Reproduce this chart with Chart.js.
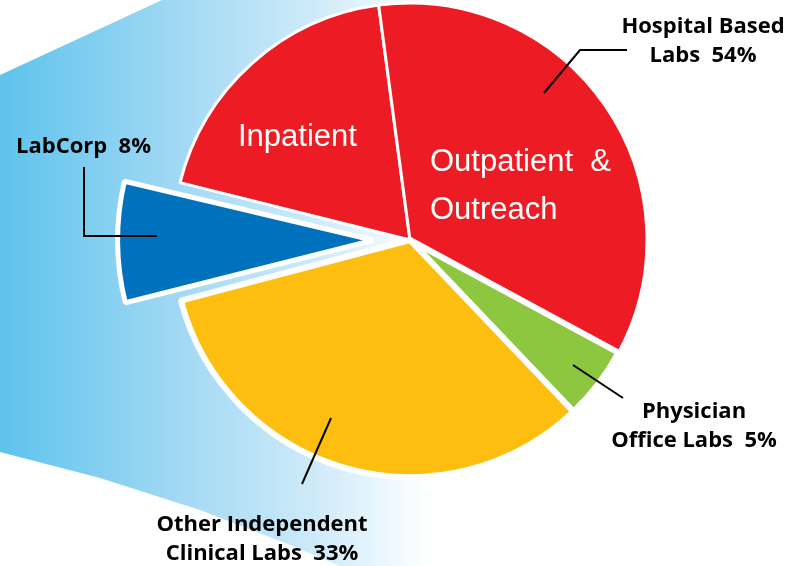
<!DOCTYPE html>
<html>
<head>
<meta charset="utf-8">
<script src="https://cdn.jsdelivr.net/npm/chart.js@4/dist/chart.umd.min.js"></script>
<style>
  html, body { margin: 0; padding: 0; background: #fff; }
  #wrap { position: relative; width: 805px; height: 566px; overflow: hidden; }
  #funnel {
    position: absolute; left: 0; top: 0; width: 805px; height: 566px;
    background: linear-gradient(to right, #5ec3ed 0px, #a2d9f4 180px, #d0ebf9 320px, #eef8fd 390px, #ffffff 430px);
    clip-path: polygon(0px 75px, 162px 0px, 805px 0px, 805px 566px, 340px 566px, 290px 545px, 200px 510px, 100px 478px, 0px 452px);
  }
  canvas { position: absolute; left: 0; top: 0; }
</style>
</head>
<body>
<div id="wrap">
  <div id="funnel"></div>
  <canvas id="pieCanvas" width="805" height="566"></canvas>
</div>
<script>
// slices, clockwise from the LabCorp/Inpatient edge
const categories = ['Inpatient', 'Outpatient & Outreach', 'Physician Office Labs', 'Other Independent Clinical Labs', 'LabCorp'];
const shares = [19, 35, 5, 33, 8];
const sliceColors = ['#ed1c24', '#ed1c24', '#8dc63f', '#fdbe10', '#0071bc'];
const sliceBorders = [3, 3, 6, 6, 5];
const sliceOffsets = [0, 0, 0, 0, 146];

// callout labels (Hospital Based = Inpatient + Outpatient)
const calloutLines = [['Hospital Based', 'Labs'], ['Physician', 'Office Labs'], ['Other Independent', 'Clinical Labs'], ['LabCorp']];
const calloutShares = [shares[0] + shares[1], shares[2], shares[3], shares[4]];

// white labels inside the red slice
const innerLabels = [['Inpatient'], ['Outpatient  &', 'Outreach']];

// callout layout: text anchor, alignment, leader line
const calloutLayout = [
  { x: 703, y: 33, align: 'center', line: [[544, 93], [580, 50], [627, 50]] },
  { x: 694, y: 418, align: 'center', line: [[573, 365], [623, 398]] },
  { x: 262, y: 531, align: 'center', line: [[331, 418], [302, 484]] },
  { x: 16, y: 153, align: 'left', line: [[84, 167], [84, 236], [157, 236]] }
];
const innerLayout = [
  { x: 238, y: 146 },
  { x: 430, y: 171 }
];

const labelPlugin = {
  id: 'labels',
  afterDraw(chart) {
    const ctx = chart.ctx;
    ctx.save();
    // leader lines
    ctx.strokeStyle = '#000';
    ctx.lineWidth = 2;
    calloutLayout.forEach(l => {
      ctx.beginPath();
      l.line.forEach((p, i) => i === 0 ? ctx.moveTo(p[0], p[1]) : ctx.lineTo(p[0], p[1]));
      ctx.stroke();
    });
    // bold callouts
    ctx.fillStyle = '#000';
    ctx.font = 'bold 22px "Open Sans"';
    ctx.textBaseline = 'alphabetic';
    calloutLines.forEach((lines, i) => {
      const l = calloutLayout[i];
      ctx.textAlign = l.align;
      lines.forEach((t, j) => {
        const txt = j === lines.length - 1 ? t + '  ' + calloutShares[i] + '%' : t;
        ctx.fillText(txt, l.x, l.y + j * 29);
      });
    });
    // white labels in red
    ctx.fillStyle = '#fff';
    ctx.font = '31px "Liberation Sans"';
    ctx.textAlign = 'left';
    innerLabels.forEach((lines, i) => {
      lines.forEach((t, j) => ctx.fillText(t, innerLayout[i].x, innerLayout[i].y + j * 48));
    });
    ctx.restore();
  }
};

const ctx = document.getElementById('pieCanvas').getContext('2d');
const chart = new Chart(ctx, {
  type: 'pie',
  data: {
    labels: categories,
    datasets: [{
      data: shares,
      backgroundColor: sliceColors,
      borderColor: '#ffffff',
      borderWidth: sliceBorders,
      offset: sliceOffsets,
      hoverOffset: 0
    }]
  },
  options: {
    responsive: false,
    animation: false,
    events: [],
    rotation: -76,
    radius: 237,
    layout: { padding: { left: 15, right: 0, top: 0, bottom: 86 } },
    plugins: {
      legend: { display: false },
      tooltip: { enabled: false }
    }
  },
  plugins: [labelPlugin]
});
</script>
</body>
</html>
